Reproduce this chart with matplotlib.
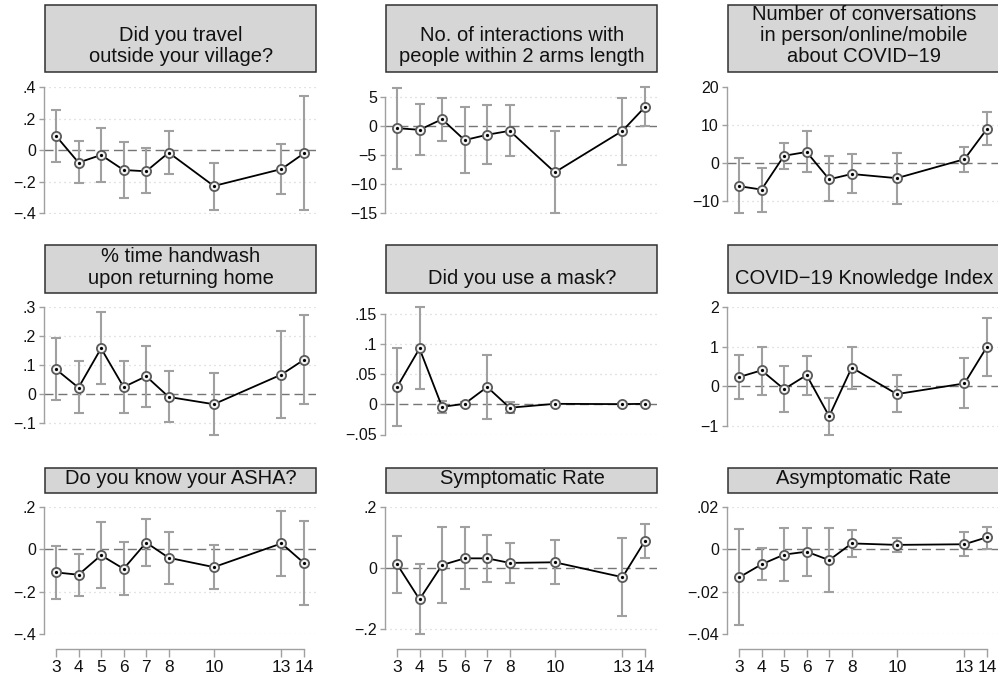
import matplotlib
matplotlib.use('Agg')
import matplotlib.pyplot as plt
from matplotlib.patches import Rectangle
import numpy as np

plt.rcParams['font.family'] = ['Liberation Sans', 'DejaVu Sans']

# ---------------- data ----------------
waves = [3, 4, 5, 6, 7, 8, 10, 13, 14]

titles = [
    "Did you travel\noutside your village?",
    "No. of interactions with\npeople within 2 arms length",
    "Number of conversations\nin person/online/mobile\nabout COVID\u221219",
    "% time handwash\nupon returning home",
    "Did you use a mask?",
    "COVID\u221219 Knowledge Index",
    "Do you know your ASHA?",
    "Symptomatic Rate",
    "Asymptomatic Rate",
]

travel_est = [0.091, -0.078, -0.030, -0.125, -0.133, -0.015, -0.226, -0.119, -0.019]
travel_lo = [-0.072, -0.210, -0.199, -0.300, -0.273, -0.150, -0.375, -0.275, -0.381]
travel_hi = [0.252, 0.057, 0.138, 0.053, 0.015, 0.123, -0.078, 0.042, 0.343]

interact_est = [-0.37, -0.66, 1.17, -2.43, -1.51, -0.83, -7.97, -0.83, 3.29]
interact_lo = [-7.46, -5.0, -2.66, -8.14, -6.6, -5.11, -15.06, -6.66, -0.03]
interact_hi = [6.6, 3.74, 4.89, 3.34, 3.57, 3.57, -0.83, 4.89, 6.71]

convo_est = [-6.1, -7.0, 1.9, 2.9, -4.3, -2.9, -4.0, 1.0, 9.0]
convo_lo = [-13.3, -12.9, -1.5, -2.5, -10.0, -7.9, -10.7, -2.3, 4.7]
convo_hi = [1.3, -1.2, 5.2, 8.3, 1.8, 2.3, 2.7, 4.3, 13.4]

wash_est = [0.086, 0.023, 0.158, 0.025, 0.062, -0.009, -0.034, 0.068, 0.119]
wash_lo = [-0.020, -0.063, 0.036, -0.063, -0.043, -0.095, -0.138, -0.082, -0.034]
wash_hi = [0.194, 0.114, 0.283, 0.116, 0.167, 0.081, 0.073, 0.218, 0.274]

mask_est = [0.0287, 0.093, -0.004, 0.001, 0.029, -0.0055, 0.001, 0.0005, 0.001]
mask_lo = [-0.036, 0.025, -0.015, -0.002, -0.025, -0.015, -0.0015, -0.002, -0.0015]
mask_hi = [0.093, 0.162, 0.006, 0.004, 0.083, 0.004, 0.0035, 0.003, 0.0035]

know_est = [0.23, 0.40, -0.075, 0.28, -0.76, 0.47, -0.20, 0.07, 1.00]
know_lo = [-0.32, -0.22, -0.65, -0.22, -1.22, -0.06, -0.66, -0.56, 0.27]
know_hi = [0.80, 1.00, 0.51, 0.76, -0.29, 0.99, 0.28, 0.72, 1.72]

asha_est = [-0.109, -0.120, -0.028, -0.092, 0.032, -0.040, -0.084, 0.028, -0.065]
asha_lo = [-0.234, -0.219, -0.182, -0.218, -0.080, -0.163, -0.186, -0.126, -0.264]
asha_hi = [0.017, -0.021, 0.129, 0.035, 0.142, 0.084, 0.019, 0.182, 0.136]

sympt_est = [0.012, -0.104, 0.009, 0.031, 0.031, 0.016, 0.018, -0.031, 0.089]
sympt_lo = [-0.082, -0.218, -0.117, -0.070, -0.047, -0.049, -0.052, -0.158, 0.032]
sympt_hi = [0.105, 0.013, 0.134, 0.134, 0.108, 0.083, 0.090, 0.099, 0.145]

asympt_est = [-0.0133, -0.0071, -0.0025, -0.0011, -0.0051, 0.0028, 0.0021, 0.0024, 0.0057]
asympt_lo = [-0.0357, -0.0145, -0.0150, -0.0125, -0.0200, -0.0035, -0.0014, -0.0032, 0.0003]
asympt_hi = [0.0095, 0.0005, 0.0101, 0.0101, 0.0101, 0.0092, 0.0055, 0.0081, 0.0106]

yticks = [
    [-0.4, -0.2, 0, 0.2, 0.4],
    [-15, -10, -5, 0, 5],
    [-10, 0, 10, 20],
    [-0.1, 0, 0.1, 0.2, 0.3],
    [-0.05, 0, 0.05, 0.1, 0.15],
    [-1, 0, 1, 2],
    [-0.4, -0.2, 0, 0.2],
    [-0.2, 0, 0.2],
    [-0.04, -0.02, 0, 0.02],
]
yticklabels = [
    ["\u2212.4", "\u2212.2", "0", ".2", ".4"],
    ["\u221215", "\u221210", "\u22125", "0", "5"],
    ["\u221210", "0", "10", "20"],
    ["\u2212.1", "0", ".1", ".2", ".3"],
    ["\u2212.05", "0", ".05", ".1", ".15"],
    ["\u22121", "0", "1", "2"],
    ["\u2212.4", "\u2212.2", "0", ".2"],
    ["\u2212.2", "0", ".2"],
    ["\u2212.04", "\u2212.02", "0", ".02"],
]
xticklabels = ["3", "4", "5", "6", "7", "8", "10", "13", "14"]

series = [
    (travel_est, travel_lo, travel_hi),
    (interact_est, interact_lo, interact_hi),
    (convo_est, convo_lo, convo_hi),
    (wash_est, wash_lo, wash_hi),
    (mask_est, mask_lo, mask_hi),
    (know_est, know_lo, know_hi),
    (asha_est, asha_lo, asha_hi),
    (sympt_est, sympt_lo, sympt_hi),
    (asympt_est, asympt_lo, asympt_hi),
]

# ---------------- layout (pixels) ----------------
W, H = 998, 678
fig = plt.figure(figsize=(W / 100, H / 100), dpi=100)
fig.patch.set_facecolor('white')

col_left = [44, 385, 727]
col_w = 272
row_axes = [(87, 213.5), (307, 434.5), (507, 634)]
row_box = [(5, 72), (245, 293), (468, 493)]

GRAY = '#a0a0a0'


def fx(p):
    return p / W


def fy(p):
    return 1 - p / H


for i, (est, lo, hi) in enumerate(series):
    r, c = divmod(i, 3)
    L = col_left[c]
    top, bot = row_axes[r]
    ax = fig.add_axes([fx(L), fy(bot), col_w / W, (bot - top) / H])
    ax.patch.set_alpha(0)
    est = np.array(est)
    lo = np.array(lo)
    hi = np.array(hi)
    tk = yticks[i]
    ax.set_xlim(2.47, 14.53)
    ax.set_ylim(min(min(tk), lo.min()), max(max(tk), hi.max()))

    # grid + zero line
    for t in tk:
        if t == 0:
            continue
        if i == 2 and t == 20:
            continue
        ax.axhline(t, color='#c8c8c8', lw=0.9, ls=(0, (0.8, 3.2)), zorder=1)
    ax.axhline(0, color='#757575', lw=1.0, ls=(0, (6.5, 3.5)), zorder=2)

    ax.errorbar(waves, est, yerr=[est - lo, hi - est], fmt='none',
                ecolor=GRAY, elinewidth=1.5, capsize=3.3, capthick=1.5,
                zorder=3, clip_on=False)
    ax.plot(waves, est, color='black', lw=1.3, zorder=4, clip_on=False)
    ax.plot(waves, est, 'o', ms=6.6, mfc='#f4f4f4', mec='#5a5a5a', mew=1.3,
            zorder=5, clip_on=False)
    ax.plot(waves, est, 'o', ms=1.3, color='black', zorder=6, clip_on=False)

    for s in ['top', 'right']:
        ax.spines[s].set_visible(False)
    ax.spines['left'].set_color(GRAY)
    ax.spines['left'].set_linewidth(1.0)
    ax.spines['left'].set_bounds(min(tk), max(tk))
    ax.set_yticks(tk)
    ax.set_yticklabels(yticklabels[i])
    ax.tick_params(axis='y', length=3.8, width=1.0, color=GRAY, pad=2,
                   labelsize=11.5, labelcolor='#111111')

    if r == 2:
        ax.spines['bottom'].set_position(('outward', 10.8))
        ax.spines['bottom'].set_bounds(3, 14)
        ax.spines['bottom'].set_color(GRAY)
        ax.spines['bottom'].set_linewidth(1.0)
        ax.set_xticks(waves)
        ax.set_xticklabels(xticklabels)
        ax.tick_params(axis='x', length=5.6, width=1.0, color=GRAY, pad=2.5,
                       labelsize=12.5, labelcolor='#111111')
    else:
        ax.spines['bottom'].set_visible(False)
        ax.set_xticks([])

    # title box
    btop, bbot = row_box[r]
    fig.add_artist(Rectangle((fx(L + 1), fy(bbot)), (col_w - 1) / W,
                             (bbot - btop) / H, transform=fig.transFigure,
                             facecolor='#d6d6d6', edgecolor='#303030',
                             lw=1.1, zorder=1))
    lines = titles[i].split('\n')
    for k, line in enumerate(reversed(lines)):
        fig.text(fx(L + 1 + col_w / 2), fy(bbot - 9.5 - k * 21.5), line,
                 ha='center', va='baseline', fontsize=14.5, color='#111111',
                 zorder=2)

fig.savefig('out.png', dpi=100)
